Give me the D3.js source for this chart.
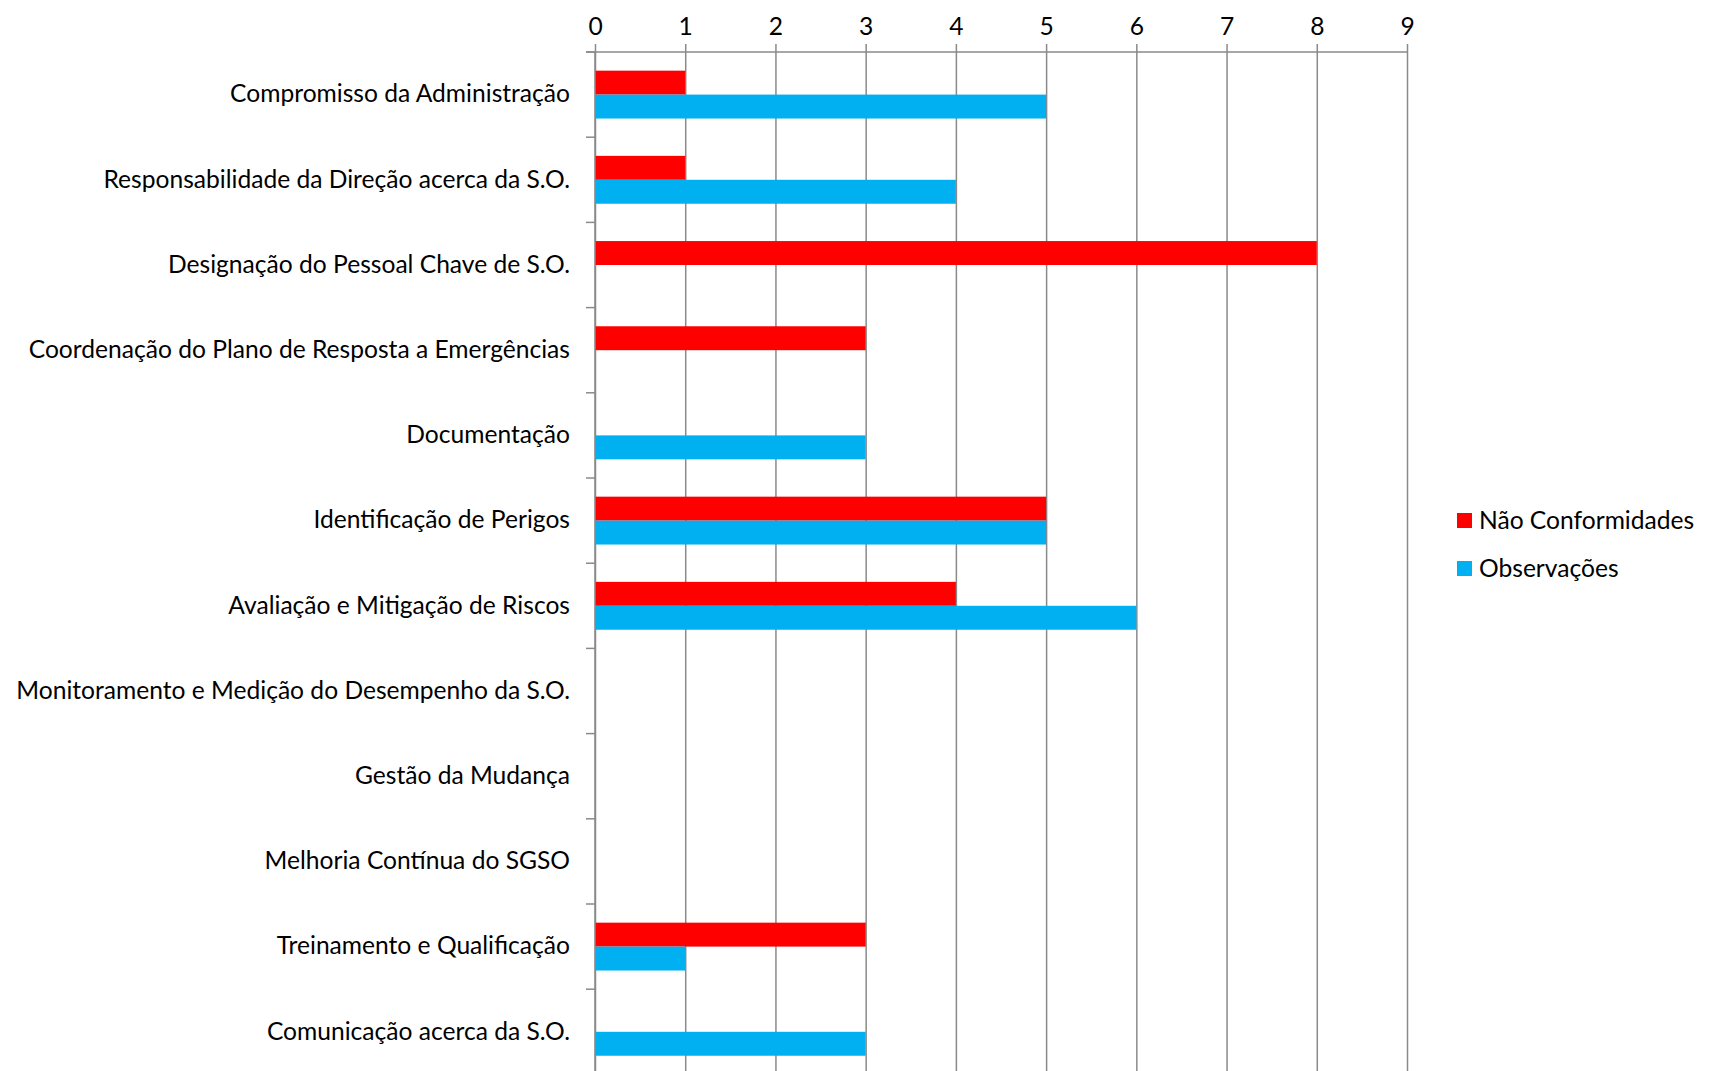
<!DOCTYPE html>
<html>
<head>
<meta charset="utf-8">
<script src="https://cdn.jsdelivr.net/npm/d3@7"></script>
<style>
    html, body { margin: 0; padding: 0; background: #fff; }
    #chart-container { width: 1713px; height: 1071px; overflow: hidden; }
    svg { display: block; }
    svg text { font-family: Lato, "Open Sans", sans-serif; }
</style>
</head>
<body>
<div id="chart-container"></div>
<script>
// Chart data
const categories = [
    "Compromisso da Administração",
    "Responsabilidade da Direção acerca da S.O.",
    "Designação do Pessoal Chave de S.O.",
    "Coordenação do Plano de Resposta a Emergências",
    "Documentação",
    "Identificação de Perigos",
    "Avaliação e Mitigação de Riscos",
    "Monitoramento e Medição do Desempenho da S.O.",
    "Gestão da Mudança",
    "Melhoria Contínua do SGSO",
    "Treinamento e Qualificação",
    "Comunicação acerca da S.O."
];
const seriesNames = ["Não Conformidades", "Observações"];
const naoConformidades = [1, 1, 8, 3, 0, 5, 4, 0, 0, 0, 3, 0];
const observacoes = [5, 4, 0, 0, 3, 5, 6, 0, 0, 0, 1, 3];
const xTicks = [0, 1, 2, 3, 4, 5, 6, 7, 8, 9];
const colors = ["#FF0000", "#00B0F0"];

document.addEventListener("DOMContentLoaded", function() {
    const width = 1713;
    const height = 1071;
    const fontSize = 24.6;

    const svg = d3.select("#chart-container").append("svg")
        .attr("width", width)
        .attr("height", height);

    // Plot area (the chart runs past the bottom edge like the original)
    const left = 595, right = 1407, top = 52, bottom = 52 + 12 * 85.2;

    const x = d3.scaleLinear().domain([0, 9]).range([left, right]);
    const y = d3.scaleBand().domain(categories).range([top, bottom]).padding(0);
    const ySeries = d3.scaleBand().domain(seriesNames)
        .range([0, y.bandwidth()]).paddingInner(0).paddingOuter(0.78);

    const rows = categories.map((c, i) => ({
        category: c,
        values: [
            { series: seriesNames[0], value: naoConformidades[i] },
            { series: seriesNames[1], value: observacoes[i] }
        ]
    }));

    // Vertical gridlines + top axis
    const xAxis = d3.axisTop(x)
        .tickValues(xTicks)
        .tickSize(-(bottom - top))
        .tickPadding(17)
        .tickFormat(d3.format("d"));

    const gx = svg.append("g")
        .attr("transform", `translate(0,${top})`)
        .call(xAxis)
        .attr("font-family", null)
        .attr("font-size", null);
    gx.select(".domain").remove();
    gx.selectAll(".tick line")
        .attr("y1", -8)
        .attr("stroke", "#8a8a8a")
        .attr("stroke-width", 1.5);
    gx.selectAll(".tick text")
        .attr("fill", "#000")
        .style("font-size", fontSize + "px");

    // top axis line
    svg.append("line")
        .attr("x1", left - 9).attr("x2", right)
        .attr("y1", top).attr("y2", top)
        .attr("stroke", "#8a8a8a")
        .attr("stroke-width", 1.5);

    // Bars
    const groups = svg.append("g")
        .selectAll("g")
        .data(rows)
        .join("g")
        .attr("transform", d => `translate(0,${y(d.category)})`);

    groups.selectAll("rect")
        .data(d => d.values.filter(v => v.value > 0))
        .join("rect")
        .attr("x", x(0))
        .attr("y", d => ySeries(d.series))
        .attr("width", d => x(d.value) - x(0))
        .attr("height", ySeries.bandwidth())
        .attr("fill", d => colors[seriesNames.indexOf(d.series)]);

    // Left axis with category labels
    const yAxis = d3.axisLeft(y).tickSize(0).tickPadding(25);
    const gy = svg.append("g")
        .attr("transform", `translate(${left},0)`)
        .call(yAxis)
        .attr("font-family", null)
        .attr("font-size", null);
    gy.select(".domain")
        .attr("d", `M0,${top}V${bottom}`)
        .attr("stroke", "#8a8a8a")
        .attr("stroke-width", 1.5);
    gy.selectAll(".tick text")
        .attr("fill", "#000")
        .style("font-size", fontSize + "px");

    // tick marks between categories
    const boundaries = categories.map(c => y(c)).concat([bottom]);
    svg.append("g").selectAll("line")
        .data(boundaries)
        .join("line")
        .attr("x1", left - 9).attr("x2", left)
        .attr("y1", d => d).attr("y2", d => d)
        .attr("stroke", "#8a8a8a")
        .attr("stroke-width", 1.5);

    // Legend
    const legend = svg.append("g")
        .attr("transform", "translate(1457,513)");
    const item = legend.selectAll("g")
        .data(seriesNames)
        .join("g")
        .attr("transform", (d, i) => `translate(0,${i * 48})`);
    item.append("rect")
        .attr("width", 15)
        .attr("height", 15)
        .attr("fill", (d, i) => colors[i]);
    item.append("text")
        .attr("x", 22)
        .attr("y", 7.5)
        .attr("dy", "0.35em")
        .style("font-size", fontSize + "px")
        .text(d => d);
});
</script>
</body>
</html>
